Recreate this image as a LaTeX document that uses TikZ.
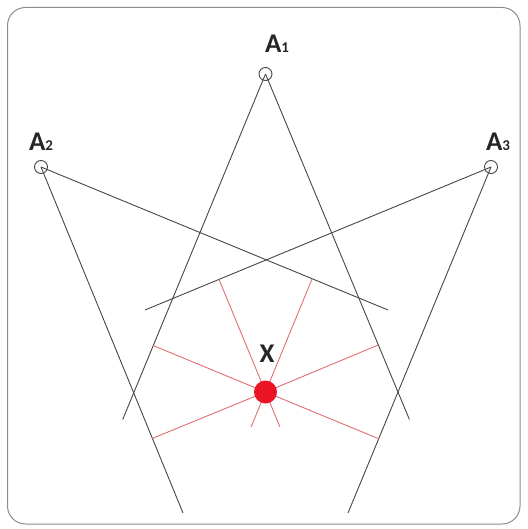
\documentclass[tikz,border=0pt]{standalone}
\usepackage{fontspec}
\setmainfont{Carlito}
\usetikzlibrary{calc}
\definecolor{frame}{RGB}{140,140,140}
\definecolor{ink}{RGB}{70,70,70}
\definecolor{redline}{RGB}{225,110,115}
\definecolor{reddot}{RGB}{235,20,35}
\tikzset{
  station/.style={circle,draw=ink,line width=0.9pt,minimum size=13pt,inner sep=0pt},
  ray/.style={draw=ink,line width=0.9pt},
  perp/.style={draw=redline,line width=0.9pt},
  lbl/.style={font=\bfseries\fontsize{27}{27}\selectfont,text=black!85,inner sep=0pt},
}
\newcommand{\subs}[1]{{\fontsize{15}{15}\selectfont #1}}
\begin{document}
\begin{tikzpicture}[x=1pt,y=-1pt]
\useasboundingbox (0,0) rectangle (527,529);
\draw[frame,line width=1pt,rounded corners=18pt] (7.5,7.5) rectangle (520,524);
% stations
\node[station] (A1) at (265.5,74) {};
\node[station] (A2) at (41,167) {};
\node[station] (A3) at (491,167) {};
\node[lbl] (L1) at (277,44) {A\subs{1}};
\node[lbl] (L2) at (41,142) {A\subs{2}};
\node[lbl] (L3) at (498,142) {A\subs{3}};
% ray ends
\coordinate (e1a) at (122.7,419.5);
\coordinate (e1b) at (409.4,419.5);
\coordinate (e2a) at (388,310);
\coordinate (e2b) at (183,513);
\coordinate (e3a) at (145,310);
\coordinate (e3b) at (348,513);
\draw[ray] (A1.center) -- (e1a);
\draw[ray] (A1.center) -- (e1b);
\draw[ray] (A2.center) -- (e2a);
\draw[ray] (A2.center) -- (e2b);
\draw[ray] (A3.center) -- (e3a);
\draw[ray] (A3.center) -- (e3b);
% point X
\coordinate (X) at (265.5,392);
\coordinate (f3a) at ($(A3.center)!(X)!(e3a)$);
\coordinate (f2a) at ($(A2.center)!(X)!(e2a)$);
\coordinate (f1a) at ($(A1.center)!(X)!(e1a)$);
\coordinate (f1b) at ($(A1.center)!(X)!(e1b)$);
\coordinate (f2b) at ($(A2.center)!(X)!(e2b)$);
\coordinate (f3b) at ($(A3.center)!(X)!(e3b)$);
\coordinate (s3a) at ($(f3a)!1.31!(X)$);
\coordinate (s2a) at ($(f2a)!1.31!(X)$);
\draw[perp] (f3a) -- (s3a);
\draw[perp] (f2a) -- (s2a);
\draw[perp] (f1a) -- (X);
\draw[perp] (f1b) -- (X);
\draw[perp] (f2b) -- (X);
\draw[perp] (f3b) -- (X);
\node[circle,fill=reddot,minimum size=23pt,inner sep=0pt] (Xdot) at (X) {};
\node[lbl] (LX) at (267,354) {X};
\end{tikzpicture}
\end{document}
